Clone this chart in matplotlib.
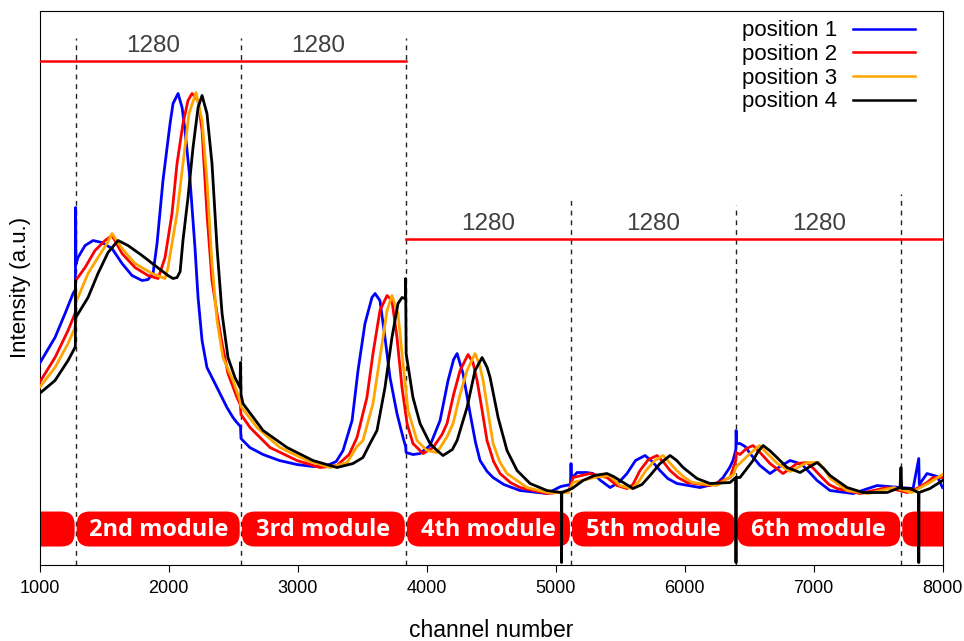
import matplotlib
matplotlib.use("Agg")
import matplotlib.pyplot as plt
from matplotlib.patches import FancyBboxPatch

plt.rcParams['font.family'] = ['Liberation Sans', 'DejaVu Sans']

# spectra: (channel, intensity in arbitrary units)
pos1_ch = [1000, 1120, 1198, 1260, 1278, 1280, 1282, 1298, 1353, 1415, 1484, 1562, 1640, 1717,
           1795, 1841, 1880, 1911, 1957, 2012, 2035, 2074, 2105, 2128, 2167, 2205, 2229, 2260,
           2298, 2376, 2453, 2500, 2530, 2558, 2562, 2630, 2733, 2860, 2996, 3120, 3230, 3300,
           3353, 3423, 3469, 3523, 3577, 3601, 3639, 3678, 3717, 3771, 3818, 3838, 3842, 3895,
           3950, 4027, 4105, 4167, 4210, 4237, 4283, 4338, 4380, 4415, 4470, 4516, 4600, 4725,
           4934, 5040, 5116, 5120, 5124, 5167, 5240, 5291, 5350, 5423, 5490, 5554, 5620, 5694,
           5750, 5810, 5870, 5942, 6120, 6250, 6299, 6350, 6376, 6398, 6400, 6404, 6430, 6470,
           6508, 6585, 6663, 6740, 6818, 6870, 6919, 6970, 7028, 7128, 7307, 7493, 7671, 7772,
           7816, 7820, 7880, 7960, 8000]
pos1_val = [201, 227, 251, 271, 275, 357, 300, 307, 319, 324, 322, 316, 301, 289,
            284, 285, 291, 321, 384, 441, 461, 471, 457, 434, 384, 317, 267, 224,
            197, 177, 157, 147, 142, 138, 126, 117, 110, 104, 100, 98, 99, 103,
            114, 144, 194, 241, 267, 271, 264, 227, 187, 151, 127, 118, 112, 110,
            111, 119, 144, 184, 205, 211, 191, 151, 122, 104, 93, 87, 80, 74,
            71, 78, 80, 101, 86, 92, 92, 91, 84, 77, 82, 91, 104, 109,
            103, 94, 86, 81, 77, 81, 87, 97, 104, 115, 134, 121, 121, 118,
            111, 99, 91, 98, 104, 102, 99, 92, 84, 74, 71, 79, 77, 76,
            106, 80, 91, 88, 77]

pos2_ch = [1000, 1120, 1221, 1275, 1278, 1280, 1353, 1430, 1508, 1562, 1640, 1740, 1841, 1919,
           1973, 2027, 2066, 2112, 2151, 2182, 2229, 2260, 2298, 2337, 2376, 2415, 2461, 2531,
           2556, 2562, 2632, 2787, 2996, 3174, 3306, 3400, 3461, 3538, 3585, 3639, 3694, 3732,
           3771, 3810, 3849, 3895, 3973, 4051, 4120, 4159, 4210, 4260, 4322, 4360, 4392, 4430,
           4469, 4520, 4570, 4650, 4725, 4934, 5100, 5120, 5136, 5268, 5399, 5477, 5554, 5600,
           5655, 5720, 5787, 5840, 5888, 5950, 6020, 6198, 6353, 6398, 6400, 6430, 6480, 6531,
           6600, 6663, 6764, 6872, 6950, 7000, 7051, 7120, 7183, 7361, 7570, 7725, 7800, 7880,
           7926, 8000]
pos2_val = [182, 207, 234, 251, 253, 284, 297, 314, 324, 329, 311, 297, 289, 286,
            307, 351, 401, 441, 464, 471, 464, 434, 351, 284, 251, 221, 191, 167,
            160, 150, 137, 117, 104, 97, 99, 110, 127, 167, 211, 254, 269, 264,
            227, 177, 141, 121, 111, 117, 130, 141, 170, 194, 210, 202, 184, 155,
            124, 103, 91, 82, 77, 71, 73, 80, 87, 91, 87, 79, 76, 80,
            94, 105, 109, 102, 94, 87, 82, 79, 87, 104, 112, 110, 116, 119,
            110, 101, 91, 101, 102, 96, 89, 80, 76, 71, 77, 72, 76, 82,
            87, 87]

pos3_ch = [1000, 1120, 1221, 1275, 1278, 1280, 1298, 1376, 1453, 1523, 1562, 1640, 1740, 1872,
           1973, 1996, 2066, 2112, 2159, 2213, 2260, 2298, 2337, 2376, 2422, 2500, 2554, 2562,
           2686, 2864, 3074, 3252, 3384, 3461, 3507, 3585, 3639, 3694, 3732, 3779, 3818, 3857,
           3926, 4004, 4082, 4160, 4206, 4260, 4314, 4376, 4410, 4439, 4480, 4516, 4570, 4624,
           4779, 4934, 5100, 5120, 5136, 5300, 5420, 5500, 5590, 5640, 5700, 5770, 5834, 5890,
           5940, 6000, 6060, 6250, 6380, 6400, 6420, 6500, 6580, 6650, 6720, 6820, 6950, 7040,
           7090, 7130, 7260, 7420, 7620, 7760, 7900, 8000]
pos3_val = [177, 197, 221, 237, 240, 262, 267, 291, 307, 321, 331, 316, 301, 291,
            286, 297, 351, 401, 451, 472, 444, 384, 301, 244, 207, 184, 164, 158,
            137, 117, 104, 97, 102, 118, 124, 161, 207, 254, 269, 251, 201, 154,
            124, 114, 112, 128, 141, 170, 194, 211, 200, 184, 150, 121, 102, 91,
            77, 72, 72, 78, 82, 87, 89, 79, 76, 82, 94, 104, 109, 101,
            94, 87, 82, 79, 90, 98, 100, 110, 119, 110, 101, 93, 102, 102,
            94, 86, 74, 71, 77, 72, 82, 90]

pos4_ch = [1000, 1120, 1221, 1275, 1278, 1279, 1281, 1376, 1453, 1531, 1609, 1686, 1795, 1895,
           1996, 2035, 2066, 2090, 2112, 2151, 2190, 2229, 2260, 2298, 2337, 2376, 2415, 2461,
           2515, 2554, 2558, 2562, 2577, 2733, 2919, 3120, 3306, 3430, 3507, 3562, 3616, 3678,
           3732, 3779, 3810, 3836, 3838, 3842, 3895, 3950, 4027, 4082, 4128, 4200, 4237, 4314,
           4376, 4431, 4470, 4493, 4555, 4624, 4702, 4803, 4934, 5045, 5047, 5049, 5128, 5213,
           5300, 5399, 5450, 5500, 5601, 5670, 5733, 5810, 5888, 5940, 5989, 6097, 6198, 6353,
           6397, 6399, 6401, 6430, 6531, 6570, 6609, 6660, 6717, 6795, 6896, 6960, 7028, 7080,
           7128, 7260, 7384, 7570, 7671, 7678, 7684, 7748, 7814, 7816, 7818, 7903, 8000]
pos4_val = [171, 184, 204, 217, 219, 284, 247, 267, 291, 312, 324, 319, 309, 299,
            289, 286, 287, 293, 324, 367, 417, 457, 469, 451, 401, 317, 251, 207,
            187, 177, 202, 170, 161, 134, 117, 104, 97, 101, 107, 121, 134, 177,
            227, 261, 267, 266, 286, 211, 167, 141, 121, 114, 109, 115, 124, 157,
            194, 207, 197, 187, 147, 114, 94, 81, 74, 72, 2, 72, 76, 84,
            89, 91, 88, 84, 76, 80, 89, 101, 109, 104, 97, 86, 81, 82,
            87, 2, 87, 87, 104, 113, 119, 114, 107, 97, 92, 97, 102, 96,
            89, 77, 72, 72, 77, 97, 76, 76, 72, 2, 72, 76, 84]

labels = ['position 1', 'position 2', 'position 3', 'position 4']
colors = ['#0000ff', '#ff0000', '#ffa500', '#000000']

# detector modules (1280 channels each)
bounds = [1280, 2560, 3840, 5120, 6400, 7680]
module_names = ['', '2nd module', '3rd module', '4th module', '5th module', '6th module', '']
module_edges = [720, 1280, 2560, 3840, 5120, 6400, 7680, 8960]
dash_start = [527, 527, 527, 365, 360, 371]

fig = plt.figure(figsize=(9.64, 6.41), dpi=100)
ax = fig.add_axes([0.041, 0.1193, 0.9367, 0.8643])

for b, y0 in zip(bounds, dash_start):
    ax.plot([b, b], [0, y0], color='#222222', lw=1.0, linestyle=(0, (3.5, 3.5)), zorder=1)

# red boxes with module names
xr = 1000.0 / 129.0
for i, name in enumerate(module_names):
    x0 = module_edges[i] + 8
    x1 = module_edges[i + 1] - 8
    box = FancyBboxPatch((x0, 18), x1 - x0, 35,
                         boxstyle='round,pad=0,rounding_size=%f' % (13 * xr),
                         mutation_aspect=1.0 / xr, fc='#ff0000', ec='none', zorder=2)
    ax.add_patch(box)
    if name:
        ax.text((module_edges[i] + module_edges[i + 1]) / 2, 35, name, color='white',
                fontsize=17, fontweight='bold', family=['Open Sans', 'DejaVu Sans'],
                ha='center', va='center', zorder=3)

series = [(pos1_ch, pos1_val), (pos2_ch, pos2_val), (pos3_ch, pos3_val), (pos4_ch, pos4_val)]
for (xs, ys), lab, c in zip(series, labels, colors):
    ax.plot(xs, ys, color=c, lw=2.0, label=lab, zorder=4)

# 1280-channel spans
ax.plot([1000, 3840], [504, 504], color='#ff0000', lw=1.8, zorder=3)
ax.plot([3840, 8000], [326, 326], color='#ff0000', lw=1.8, zorder=3)
for a, b in zip([1280, 2560], [2560, 3840]):
    ax.text((a + b) / 2 - 40, 519, '1280', color='#404040', fontsize=17.5, ha='center', va='center')
for a, b in zip([3840, 5120, 6400], [5120, 6400, 7680]):
    ax.text((a + b) / 2, 341, '1280', color='#404040', fontsize=17.5, ha='center', va='center')

ax.set_xlim(1000, 8000)
ax.set_ylim(0, 554)
ax.set_yticks([])
ax.set_xticks([1000, 2000, 3000, 4000, 5000, 6000, 7000, 8000])
ax.tick_params(axis='x', direction='out', length=5, labelsize=13, pad=6)
ax.set_xlabel('channel number', fontsize=16.5, labelpad=16)
ax.set_ylabel('Intensity (a.u.)', fontsize=16, labelpad=6)

leg = ax.legend(loc='upper right', bbox_to_anchor=(0.9745, 0.99), frameon=False,
                markerfirst=False, fontsize=16, handlelength=2.8, labelspacing=0.12,
                borderaxespad=0.0, borderpad=0.2, handletextpad=0.7)
for line in leg.get_lines():
    line.set_linewidth(1.8)

fig.savefig('out.png', dpi=100)
